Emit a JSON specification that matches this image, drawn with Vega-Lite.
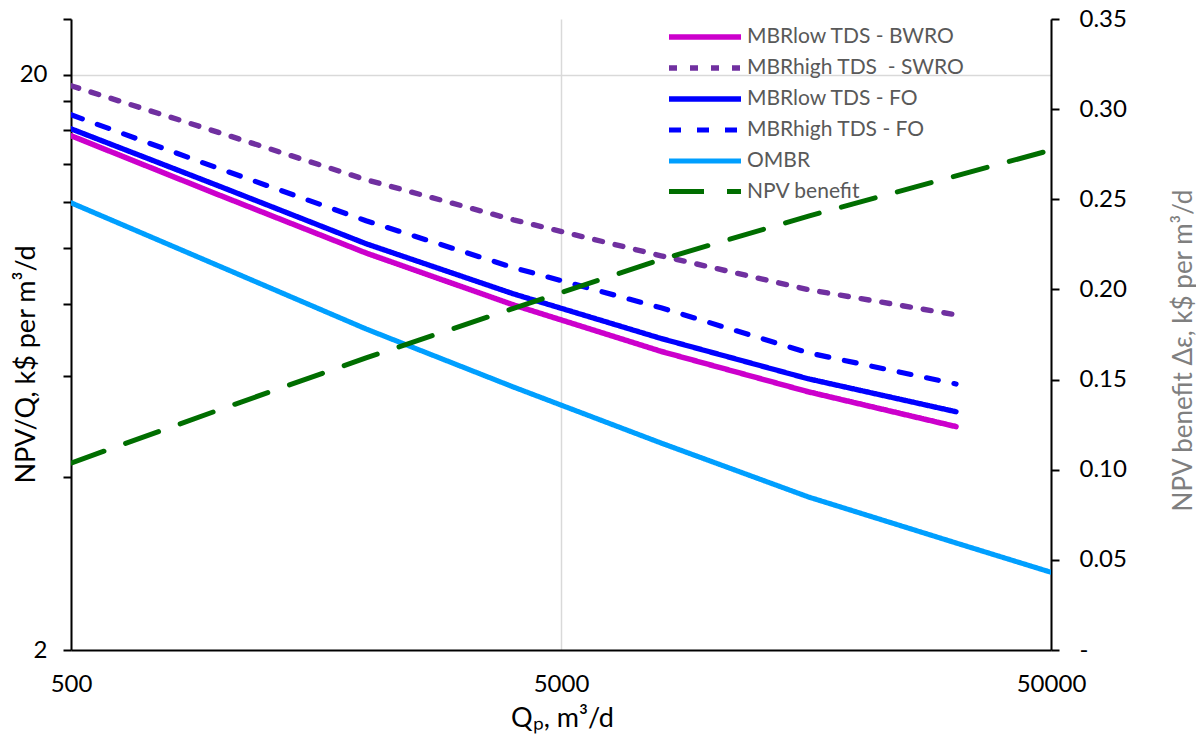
{
  "$schema": "https://vega.github.io/schema/vega-lite/v6.json",
  "width": 980,
  "height": 631,
  "autosize": {"type": "none"},
  "padding": {"left": 71, "top": 19, "right": 145, "bottom": 88},
  "background": "white",
  "config": {
    "font": "Lato",
    "view": {"stroke": null},
    "axis": {
      "domainColor": "#000000",
      "domainWidth": 2,
      "tickColor": "#000000",
      "tickWidth": 2,
      "labelColor": "#000000",
      "labelFont": "Lato",
      "labelFontSize": 24,
      "titleFont": "Lato",
      "titleFontSize": 27,
      "titleFontWeight": "normal",
      "gridColor": "#D9D9D9",
      "gridWidth": 1.5
    },
    "legend": {
      "labelFont": "Lato",
      "labelFontSize": 21,
      "labelColor": "#595959",
      "labelLimit": 400
    }
  },
  "data": {
    "values": [
      {"Q": 500, "series": "MBRlow TDS - BWRO", "value": 15.67},
      {"Q": 1000, "series": "MBRlow TDS - BWRO", "value": 12.37},
      {"Q": 2000, "series": "MBRlow TDS - BWRO", "value": 9.8},
      {"Q": 4000, "series": "MBRlow TDS - BWRO", "value": 7.96},
      {"Q": 8000, "series": "MBRlow TDS - BWRO", "value": 6.61},
      {"Q": 16000, "series": "MBRlow TDS - BWRO", "value": 5.62},
      {"Q": 32000, "series": "MBRlow TDS - BWRO", "value": 4.89},
      {"Q": 500, "series": "MBRhigh TDS\u00a0 - SWRO", "value": 19.14},
      {"Q": 1000, "series": "MBRhigh TDS\u00a0 - SWRO", "value": 15.88},
      {"Q": 2000, "series": "MBRhigh TDS\u00a0 - SWRO", "value": 13.14},
      {"Q": 4000, "series": "MBRhigh TDS\u00a0 - SWRO", "value": 11.19},
      {"Q": 8000, "series": "MBRhigh TDS\u00a0 - SWRO", "value": 9.69},
      {"Q": 16000, "series": "MBRhigh TDS\u00a0 - SWRO", "value": 8.46},
      {"Q": 32000, "series": "MBRhigh TDS\u00a0 - SWRO", "value": 7.65},
      {"Q": 500, "series": "MBRlow TDS - FO", "value": 16.11},
      {"Q": 1000, "series": "MBRlow TDS - FO", "value": 12.82},
      {"Q": 2000, "series": "MBRlow TDS - FO", "value": 10.17},
      {"Q": 4000, "series": "MBRlow TDS - FO", "value": 8.32},
      {"Q": 8000, "series": "MBRlow TDS - FO", "value": 6.96},
      {"Q": 16000, "series": "MBRlow TDS - FO", "value": 5.92},
      {"Q": 32000, "series": "MBRlow TDS - FO", "value": 5.19},
      {"Q": 500, "series": "MBRhigh TDS - FO", "value": 17.04},
      {"Q": 1000, "series": "MBRhigh TDS - FO", "value": 13.75},
      {"Q": 2000, "series": "MBRhigh TDS - FO", "value": 11.15},
      {"Q": 4000, "series": "MBRhigh TDS - FO", "value": 9.24},
      {"Q": 8000, "series": "MBRhigh TDS - FO", "value": 7.87},
      {"Q": 16000, "series": "MBRhigh TDS - FO", "value": 6.57},
      {"Q": 32000, "series": "MBRhigh TDS - FO", "value": 5.8},
      {"Q": 500, "series": "OMBR", "value": 11.98},
      {"Q": 1000, "series": "OMBR", "value": 9.31},
      {"Q": 2000, "series": "OMBR", "value": 7.23},
      {"Q": 4000, "series": "OMBR", "value": 5.73},
      {"Q": 8000, "series": "OMBR", "value": 4.58},
      {"Q": 16000, "series": "OMBR", "value": 3.69},
      {"Q": 32000, "series": "OMBR", "value": 3.07},
      {"Q": 50000, "series": "OMBR", "value": 2.73},
      {"Q": 500, "series": "NPV benefit", "value": 0.1037},
      {"Q": 1000, "series": "NPV benefit", "value": 0.1331},
      {"Q": 2000, "series": "NPV benefit", "value": 0.162},
      {"Q": 4000, "series": "NPV benefit", "value": 0.1895},
      {"Q": 8000, "series": "NPV benefit", "value": 0.2166},
      {"Q": 16000, "series": "NPV benefit", "value": 0.2407},
      {"Q": 32000, "series": "NPV benefit", "value": 0.263},
      {"Q": 50000, "series": "NPV benefit", "value": 0.2773}
    ]
  },
  "encoding": {
    "x": {
      "field": "Q",
      "type": "quantitative",
      "scale": {"type": "log", "domain": [500, 50000], "nice": false},
      "axis": {
        "values": [500, 5000, 50000],
        "labelExpr": "format(datum.value, 'd')",
        "grid": true,
        "ticks": false,
        "labelPadding": 22,
        "labelFlush": false,
        "title": "Qₚ, m³/d",
        "titleX": 491,
        "titleY": 68,
        "titleBaseline": "middle"
      }
    },
    "color": {
      "field": "series",
      "type": "nominal",
      "scale": {
        "domain": ["MBRlow TDS - BWRO", "MBRhigh TDS\u00a0 - SWRO", "MBRlow TDS - FO", "MBRhigh TDS - FO", "OMBR", "NPV benefit"],
        "range": ["#CC00CC", "#7030A0", "#0000FF", "#0000FF", "#009FFF", "#006E00"]
      },
      "legend": {
        "title": null,
        "orient": "none",
        "legendX": 595,
        "legendY": 6,
        "symbolType": "M-1,0H7",
        "symbolSize": 324,
        "rowPadding": 8,
        "labelOffset": 57
      }
    },
    "strokeDash": {
      "field": "series",
      "type": "nominal",
      "scale": {
        "domain": ["MBRlow TDS - BWRO", "MBRhigh TDS\u00a0 - SWRO", "MBRlow TDS - FO", "MBRhigh TDS - FO", "OMBR", "NPV benefit"],
        "range": [[1, 0], [8, 13], [1, 0], [12, 16], [1, 0], [35, 23]]
      },
      "legend": null
    },
    "strokeWidth": {
      "field": "series",
      "type": "nominal",
      "scale": {
        "domain": ["MBRlow TDS - BWRO", "MBRhigh TDS\u00a0 - SWRO", "MBRlow TDS - FO", "MBRhigh TDS - FO", "OMBR", "NPV benefit"],
        "range": [5.5, 5, 6, 7, 5.5, 5.5]
      },
      "legend": null
    }
  },
  "layer": [
    {
      "transform": [{"filter": "datum.series != 'NPV benefit'"}],
      "mark": {"type": "line", "strokeCap": "round", "strokeJoin": "round", "clip": true},
      "encoding": {
        "y": {
          "field": "value",
          "type": "quantitative",
          "scale": {"type": "log", "domain": [2, 25], "nice": false},
          "axis": {
            "orient": "left",
            "values": [2, 4, 6, 8, 10, 12, 14, 16, 18, 20, 25],
            "labelExpr": "datum.value == 2 || datum.value == 20 ? datum.value + '' : ''",
            "grid": true,
            "gridOpacity": {"condition": {"test": "datum.value == 20", "value": 1}, "value": 0},
            "tickSize": 8,
            "labelPadding": 16,
            "title": "NPV/Q, k$ per m³/d",
            "titleAngle": 270,
            "titleAlign": "center",
            "titleBaseline": "middle",
            "titleX": -45,
            "titleY": 345
          }
        }
      }
    },
    {
      "transform": [{"filter": "datum.series == 'NPV benefit'"}],
      "mark": {"type": "line", "strokeCap": "round", "strokeJoin": "round", "clip": true},
      "encoding": {
        "y": {
          "field": "value",
          "type": "quantitative",
          "scale": {"domain": [0, 0.35], "nice": false, "zero": true},
          "axis": {
            "orient": "right",
            "values": [0, 0.05, 0.1, 0.15, 0.2, 0.25, 0.3, 0.35],
            "labelExpr": "datum.value == 0 ? '-' : format(datum.value, '.2f')",
            "grid": false,
            "tickSize": 8,
            "labelPadding": 20,
            "title": "NPV benefit Δε, k$ per m³/d",
            "titleColor": "#7F7F7F",
            "titleFontSize": 26,
            "titleAngle": 270,
            "titleAlign": "center",
            "titleBaseline": "middle",
            "titleX": 132,
            "titleY": 331
          }
        }
      }
    }
  ],
  "resolve": {"scale": {"y": "independent"}}
}
